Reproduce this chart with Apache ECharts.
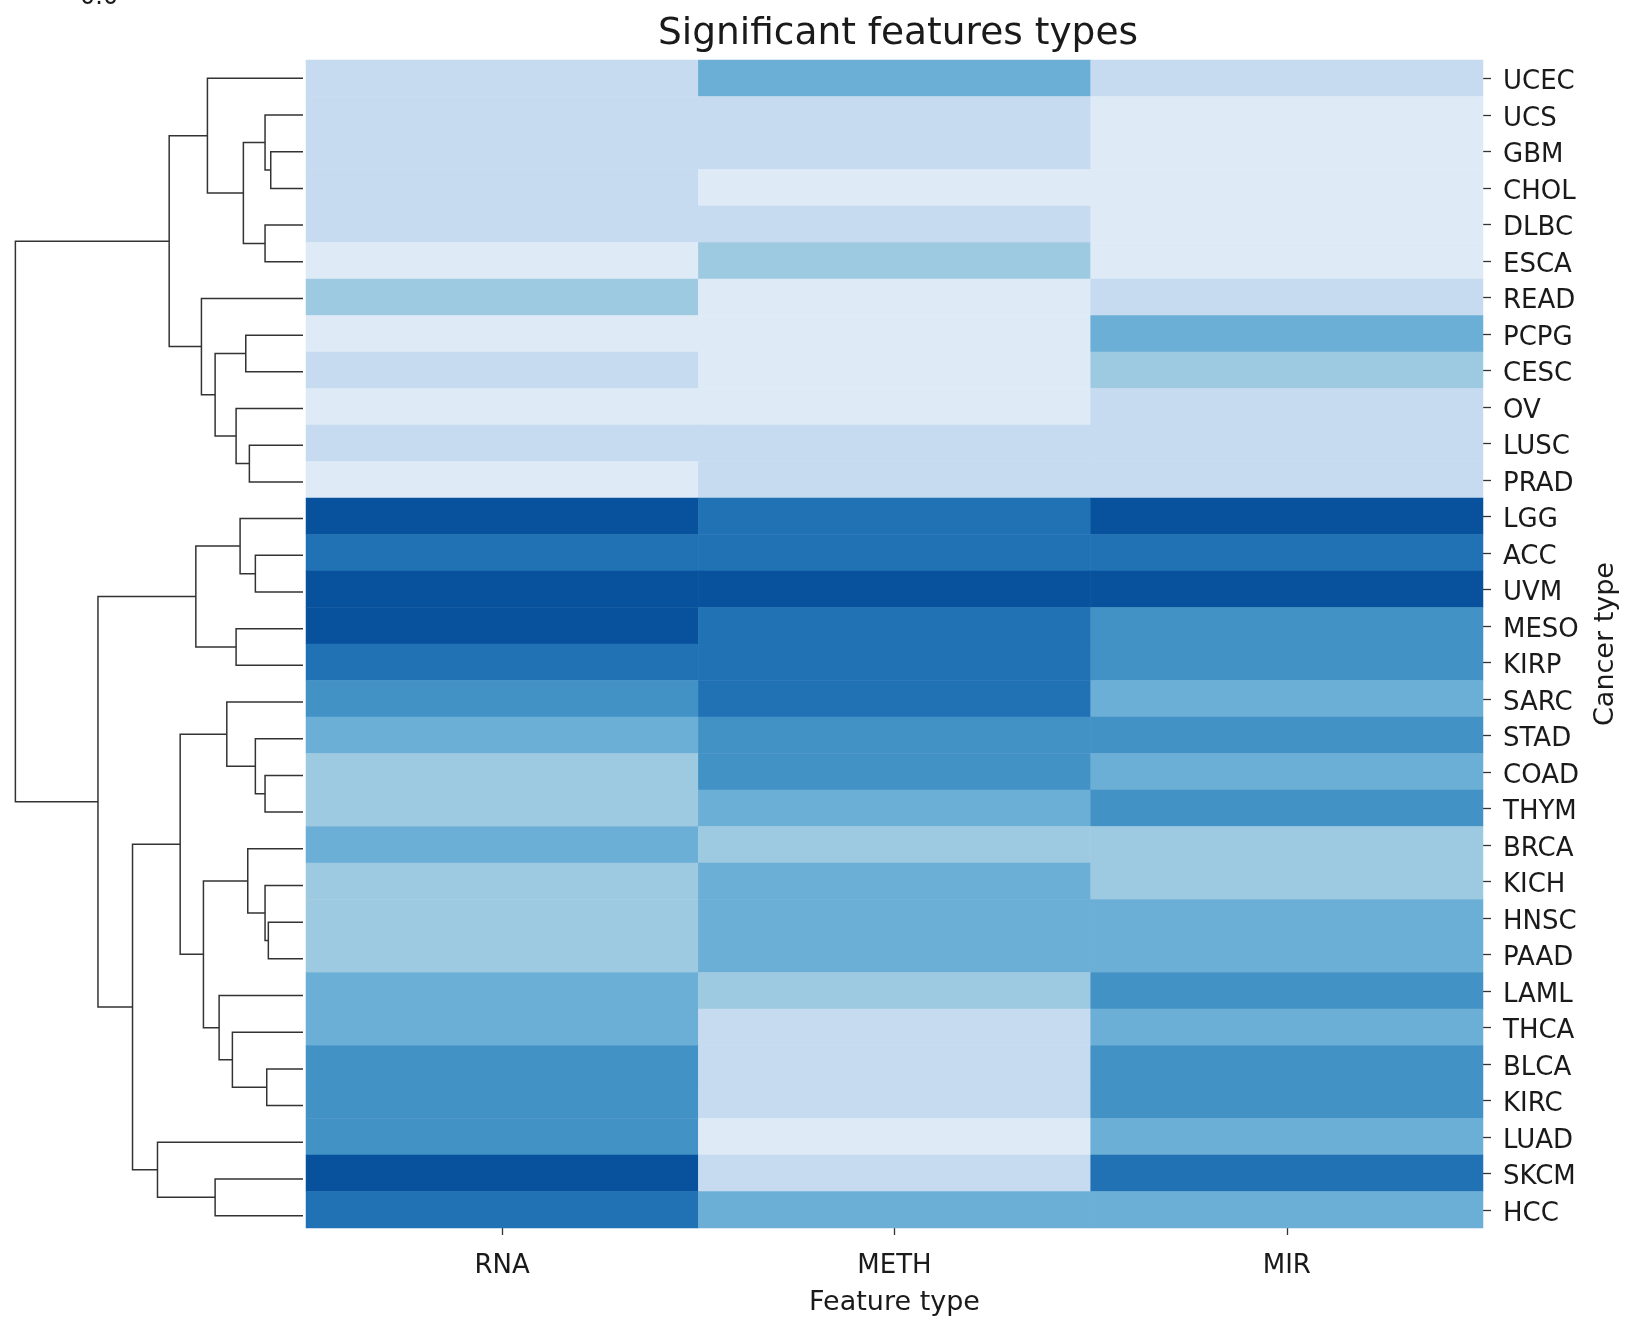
<!DOCTYPE html>
<html>
<head>
<meta charset="utf-8">
<script src="https://cdn.jsdelivr.net/npm/echarts@6/dist/echarts.min.js"></script>
<style>
html,body{margin:0;padding:0;background:#fff;}
#chart{width:1627px;height:1321px;}
</style>
</head>
<body>
<div id="chart"></div>
<script>
// ---- data ----
const featureTypes = ['RNA', 'METH', 'MIR'];
const cancerTypes = ['UCEC','UCS','GBM','CHOL','DLBC','ESCA','READ','PCPG','CESC','OV','LUSC','PRAD',
  'LGG','ACC','UVM','MESO','KIRP','SARC','STAD','COAD','THYM','BRCA','KICH','HNSC','PAAD',
  'LAML','THCA','BLCA','KIRC','LUAD','SKCM','HCC'];
// colour level (1 = lightest ... 7 = darkest) per cancer type
const rnaValues  = [2,2,2,2,2,1,3,1,2,1,2,1, 7,6,7,7,6,5,4,3,3,4,3,3,3,4,4,5,5,5,7,6];
const methValues = [4,2,2,1,2,3,1,1,1,1,2,2, 6,6,7,6,6,6,5,5,4,3,4,4,4,3,2,2,2,1,2,4];
const mirValues  = [2,1,1,1,1,1,2,4,3,2,2,2, 7,6,7,5,5,4,5,4,5,3,3,4,4,5,4,5,5,4,6,4];
const levelColors = ['#deebf7','#c6dbef','#9ecae1','#6baed6','#4292c6','#2171b5','#08519c'];
// row linkage: [child A, child B, distance]; children are labels or 'm<k>' (k-th merge)
const linkage = [
  ['GBM','CHOL',32.3],   // m0
  ['UCS','m0',38],       // m1
  ['DLBC','ESCA',38],    // m2
  ['m1','m2',59.7],      // m3
  ['UCEC','m3',95.7],    // m4
  ['PCPG','CESC',57.3],  // m5
  ['LUSC','PRAD',53.7],  // m6
  ['OV','m6',67],        // m7
  ['m5','m7',88],        // m8
  ['READ','m8',101.7],   // m9
  ['m4','m9',134],       // m10
  ['ACC','UVM',47.7],    // m11
  ['LGG','m11',63],      // m12
  ['MESO','KIRP',67],    // m13
  ['m12','m13',107.3],   // m14
  ['COAD','THYM',38],    // m15
  ['STAD','m15',47.7],   // m16
  ['SARC','m16',76.3],   // m17
  ['HNSC','PAAD',34.7],  // m18
  ['KICH','m18',38],     // m19
  ['BRCA','m19',55.3],   // m20
  ['BLCA','KIRC',36.3],  // m21
  ['THCA','m21',70.7],   // m22
  ['LAML','m22',84],     // m23
  ['m20','m23',99.7],    // m24
  ['m17','m24',123],     // m25
  ['SKCM','HCC',88],     // m26
  ['LUAD','m26',145.7],  // m27
  ['m25','m27',170.7],   // m28
  ['m14','m28',205.3],   // m29
  ['m10','m29',288]      // m30
];

// ---- build ----
const seriesByFeature = [rnaValues, methValues, mirValues];
const heatData = [];
cancerTypes.forEach((c, i) => {
  seriesByFeature.forEach((vals, j) => heatData.push([j, i, vals[i]]));
});

const nodes = {};
cancerTypes.forEach((c, i) => { nodes[c] = {y: i + 0.5, h: 0}; });
const dendroLines = [];
linkage.forEach((m, k) => {
  const a = nodes[m[0]], b = nodes[m[1]], h = m[2];
  dendroLines.push({coords: [[a.h, a.y], [h, a.y], [h, b.y], [b.h, b.y]]});
  nodes['m' + k] = {y: (a.y + b.y) / 2, h: h};
});
const rootH = linkage[linkage.length - 1][2];

const FONT = 'DejaVu Sans';
const chart = echarts.init(document.getElementById('chart'), null, {renderer: 'canvas'});
chart.setOption({
  backgroundColor: '#ffffff',
  animation: false,
  title: {
    text: 'Significant features types',
    left: 893, top: 10, textAlign: 'center',
    textStyle: {fontFamily: FONT, fontSize: 37.5, fontWeight: 'normal', color: '#1a1a1a'}
  },
  graphic: [{
    type: 'text', left: 80, top: -14, silent: true,
    style: {text: '0.0', fontFamily: FONT, fontSize: 24, fill: '#1a1a1a'}
  }],
  grid: [
    {left: 306, top: 60, width: 1182, height: 1174},
    {left: 1, top: 60, width: 302, height: 1174}
  ],
  xAxis: [{
    type: 'category', data: featureTypes, gridIndex: 0, position: 'bottom',
    axisLine: {show: false},
    axisTick: {show: true, alignWithLabel: true, length: 7, lineStyle: {color: '#333', width: 1.3}},
    axisLabel: {fontFamily: FONT, fontSize: 26, color: '#1a1a1a', margin: 25},
    splitLine: {show: false},
    name: 'Feature type', nameLocation: 'middle', nameGap: 61,
    nameTextStyle: {fontFamily: FONT, fontSize: 27, color: '#1a1a1a'}
  }, {
    type: 'value', gridIndex: 1, min: 0, max: rootH * 1.05, inverse: true, show: false
  }],
  yAxis: [{
    type: 'category', data: cancerTypes, gridIndex: 0, inverse: true, position: 'right',
    axisLine: {show: false},
    axisTick: {show: true, alignWithLabel: true, length: 8, lineStyle: {color: '#333', width: 1.3}},
    axisLabel: {fontFamily: FONT, fontSize: 26, color: '#1a1a1a', margin: 20,
      verticalAlign: 'top', lineHeight: 8},
    splitLine: {show: false},
    name: 'Cancer type', nameLocation: 'middle', nameGap: 109, nameRotate: 90,
    nameTextStyle: {fontFamily: FONT, fontSize: 27, color: '#1a1a1a'}
  }, {
    type: 'value', gridIndex: 1, min: 0, max: cancerTypes.length, inverse: true, show: false
  }],
  visualMap: {
    type: 'piecewise', show: false, seriesIndex: 0, dimension: 2,
    pieces: levelColors.map((col, k) => ({value: k + 1, color: col}))
  },
  series: [{
    type: 'heatmap', xAxisIndex: 0, yAxisIndex: 0, data: heatData,
    itemStyle: {borderWidth: 0}, emphasis: {disabled: true}, silent: true
  }, {
    type: 'lines', coordinateSystem: 'cartesian2d', xAxisIndex: 1, yAxisIndex: 1,
    polyline: true, silent: true, data: dendroLines,
    lineStyle: {color: '#333333', width: 1.5, opacity: 1, curveness: 0}
  }]
});
</script>
</body>
</html>
